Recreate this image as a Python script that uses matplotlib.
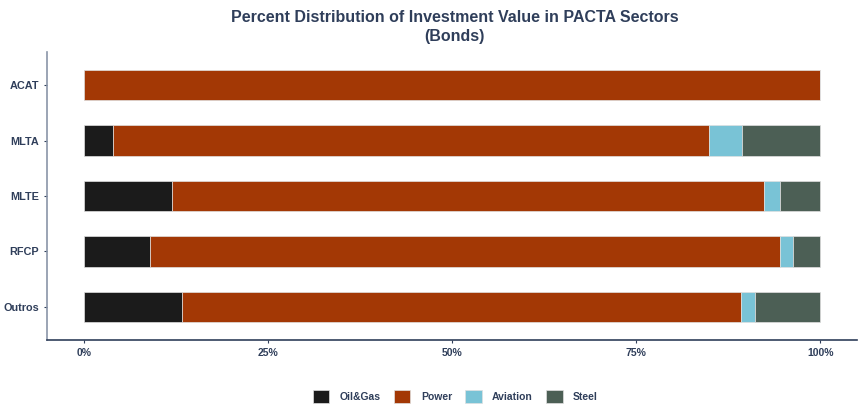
import matplotlib
matplotlib.use("Agg")
import matplotlib.pyplot as plt
import numpy as np

categories = ["ACAT", "MLTA", "MLTE", "RFCP", "Outros"]
sectors = ["Oil&Gas", "Power", "Aviation", "Steel"]
oil_gas = [0.0, 4.0, 12.0, 9.0, 13.3]
power = [100.0, 80.9, 80.4, 85.6, 75.9]
aviation = [0.0, 4.5, 2.2, 1.7, 1.9]
steel = [0.0, 10.6, 5.4, 3.7, 8.9]
xticks = [0, 25, 50, 75, 100]
xticklabels = ["0%", "25%", "50%", "75%", "100%"]

colors = ["#1b1b1b", "#a33805", "#79c3d6", "#4c5f55"]
navy = "#2f3e5a"

plt.rcParams['font.family'] = ['Liberation Sans', 'DejaVu Sans']

fig = plt.figure(figsize=(8.59, 4.13), dpi=100)
ax = fig.add_axes([0.0547, 0.1768, 0.9430, 0.6972])

ypos = np.arange(len(categories))[::-1] + 1
left = np.zeros(len(categories))
for name, vals, c in zip(sectors, [oil_gas, power, aviation, steel], colors):
    vals = np.array(vals)
    ax.barh(ypos, vals, left=left, height=0.55, color=c, edgecolor="#e0e0e0",
            linewidth=0.5, label=name)
    left += vals

ax.set_xlim(-5, 105)
ax.set_ylim(0.4, 5.6)
ax.set_yticks(ypos)
ax.set_yticklabels(categories, fontsize=7.8, fontweight="bold", color=navy)
ax.set_xticks(xticks)
ax.set_xticklabels(xticklabels, fontsize=7.5, fontweight="bold", color=navy)
ax.tick_params(axis="both", length=2.5, width=0.8, color=navy, pad=3)
for s in ["top", "right"]:
    ax.spines[s].set_visible(False)
ax.spines["left"].set_color("#8a95a8")
ax.spines["bottom"].set_color(navy)
ax.spines["left"].set_linewidth(1.2)
ax.spines["bottom"].set_linewidth(1.2)

fig.text(0.529, 0.976, "Percent Distribution of Investment Value in PACTA Sectors\n(Bonds)",
         ha="center", va="top", fontsize=11.5, fontweight="bold", color=navy,
         linespacing=1.3)

leg = fig.legend(loc="center", bbox_to_anchor=(0.53, 0.04), ncol=4, frameon=False,
                 handlelength=1.6, handleheight=1.6, handletextpad=1.0,
                 columnspacing=1.25, prop={"size": 7.5, "weight": "bold"})
for t in leg.get_texts():
    t.set_color(navy)

fig.savefig("out.png", dpi=100, facecolor="white")
